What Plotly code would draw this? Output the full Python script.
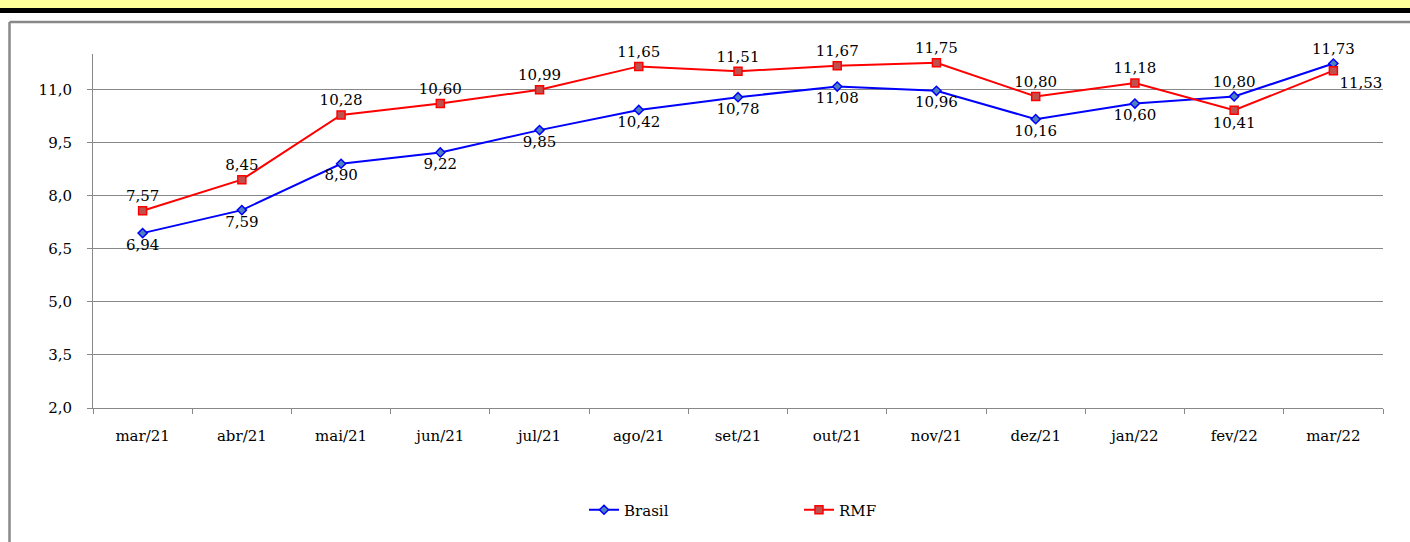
import plotly.graph_objects as go

categories = ["mar/21", "abr/21", "mai/21", "jun/21", "jul/21", "ago/21", "set/21",
              "out/21", "nov/21", "dez/21", "jan/22", "fev/22", "mar/22"]
brasil = [6.94, 7.59, 8.90, 9.22, 9.85, 10.42, 10.78, 11.08, 10.96, 10.16, 10.60, 10.80, 11.73]
rmf = [7.57, 8.45, 10.28, 10.60, 10.99, 11.65, 11.51, 11.67, 11.75, 10.80, 11.18, 10.41, 11.53]
ytick_vals = [2.0, 3.5, 5.0, 6.5, 8.0, 9.5, 11.0]

def fmt(v):
    return f"{v:.2f}".replace(".", ",")

def fmt1(v):
    return f"{v:.1f}".replace(".", ",")

brasil_pos = ["bottom center"] * 11 + ["top center", "top center"]
rmf_pos = ["top center"] * 11 + ["bottom center", "bottom right"]

W, H = 1410, 542
L, R, T, B = 93, 27, 54, 134
pw, ph = W - L - R, H - T - B

def px(x):
    return (x - L) / pw

def py(y):
    return (H - B - y) / ph

FONT = "DejaVu Serif"
FS = 15

fig = go.Figure()
fig.add_trace(go.Scatter(
    x=categories, y=brasil, name="Brasil", mode="lines+markers+text",
    line=dict(color="#0000FF", width=2),
    marker=dict(symbol="diamond", size=7, color="#4F81BD", line=dict(color="#0000FF", width=1.5)),
    text=[fmt(v) for v in brasil], textposition=brasil_pos,
    textfont=dict(family=FONT, size=FS, color="black"),
    cliponaxis=False,
))
fig.add_trace(go.Scatter(
    x=categories, y=rmf, name="RMF", mode="lines+markers+text",
    line=dict(color="#FF0000", width=2),
    marker=dict(symbol="square", size=8, color="#C0504D", line=dict(color="#FF0000", width=1.5)),
    text=[fmt(v) for v in rmf], textposition=rmf_pos,
    textfont=dict(family=FONT, size=FS, color="black"),
    cliponaxis=False,
))

shapes = [
    dict(type="rect", xref="paper", yref="paper", x0=px(0), x1=px(W), y0=py(8), y1=py(0),
         fillcolor="#FFFF99", line=dict(width=0), layer="below"),
    dict(type="rect", xref="paper", yref="paper", x0=px(0), x1=px(W), y0=py(13), y1=py(8),
         fillcolor="black", line=dict(width=0), layer="below"),
    dict(type="line", xref="paper", yref="paper", x0=px(9.5), x1=px(W + 5), y0=py(22), y1=py(22),
         line=dict(color="#888888", width=2.5), layer="below"),
    dict(type="line", xref="paper", yref="paper", x0=px(9.5), x1=px(9.5), y0=py(22), y1=py(H + 5),
         line=dict(color="#888888", width=2.5), layer="below"),
]

fig.update_layout(
    width=W, height=H,
    margin=dict(l=L, r=R, t=T, b=B),
    paper_bgcolor="white", plot_bgcolor="white",
    font=dict(family=FONT, size=FS, color="black"),
    shapes=shapes,
    showlegend=True,
    legend=dict(orientation="h", x=px(584), y=py(510), xanchor="left", yanchor="middle",
                entrywidth=170, entrywidthmode="pixels",
                font=dict(family=FONT, size=FS, color="black")),
    xaxis=dict(
        type="category", range=[-0.5, 12.5], tickson="boundaries",
        showline=True, linecolor="#888888", linewidth=1,
        ticks="outside", ticklen=5, tickcolor="#888888", ticklabelstandoff=14,
        showgrid=False, tickfont=dict(family=FONT, size=FS, color="black"),
    ),
    yaxis=dict(
        range=[2.0, 12.0], tickvals=ytick_vals, ticktext=[fmt1(v) for v in ytick_vals],
        showline=True, linecolor="#888888", linewidth=1,
        ticks="outside", ticklen=5, tickcolor="#888888", ticklabelstandoff=12,
        showgrid=True, gridcolor="#888888", gridwidth=1, zeroline=False,
        tickfont=dict(family=FONT, size=FS, color="black"),
    ),
)

fig.write_html("out.html", config={"displayModeBar": False},
               post_script="document.body.style.margin='0';document.body.style.overflow='hidden';")
